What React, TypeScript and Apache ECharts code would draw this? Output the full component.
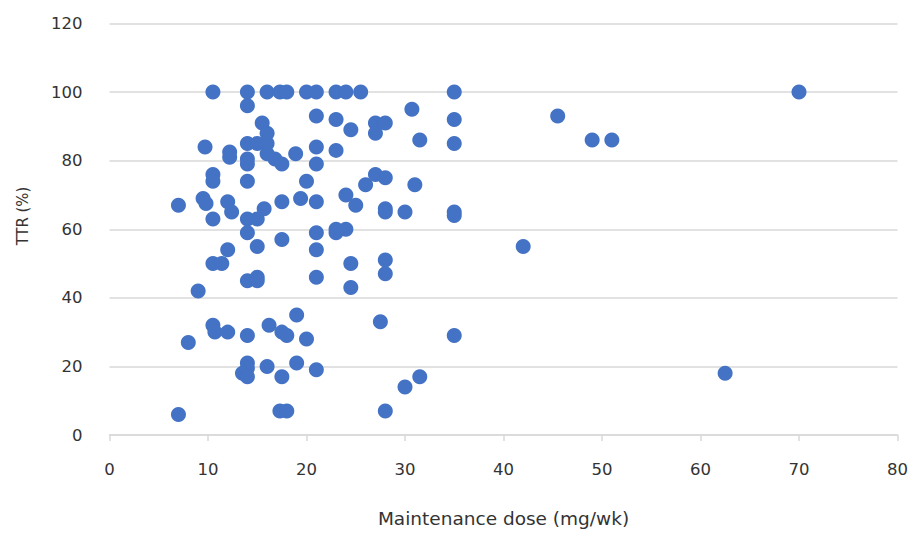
import React, { useEffect, useRef } from "react";
import * as echarts from "echarts";

const doseMgWk: number[] = [
  7, 7, 8, 9, 9.7, 9.5, 9.8, 10.5, 10.5, 10.5, 10.5, 10.5, 10.5, 10.7, 11.4, 12, 12, 12.2, 12.2, 12.4,
  12, 14, 14, 14, 14, 14, 14, 14, 14, 14, 14, 14, 14, 13.5, 14, 15, 15, 15, 15, 15,
  15.5, 15.7, 16, 16, 16, 16, 16, 16.2, 16.8, 17.3, 17.5, 17.5, 17.5, 17.5, 17.5, 17.3, 18, 18, 18, 19,
  19, 18.9, 19.4, 20, 20, 20, 21, 21, 21, 21, 21, 21, 21, 21, 21, 23, 23, 23, 23, 23,
  24, 24, 24, 24.5, 24.5, 24.5, 25, 25.5, 26, 27, 27, 27, 27.5, 28, 28, 28, 28, 28, 28, 28,
  30, 30, 30.7, 31, 31.5, 31.5, 35, 35, 35, 35, 35, 35, 42, 45.5, 49, 51, 62.5, 70,
];

const ttrPct: number[] = [
  67, 6, 27, 42, 84, 69, 67.5, 100, 76, 74, 63, 50, 32, 30, 50, 54, 68, 82.5, 81, 65,
  30, 100, 96, 85, 80.5, 79, 74, 63, 59, 45, 29, 21, 19.5, 18, 17, 63, 55, 46, 45, 85,
  91, 66, 88, 85, 82, 100, 20, 32, 80.5, 100, 79, 68, 57, 30, 17, 7, 29, 100, 7, 35,
  21, 82, 69, 100, 74, 28, 100, 93, 84, 79, 68, 59, 54, 46, 19, 100, 92, 83, 60, 59,
  100, 70, 60, 89, 50, 43, 67, 100, 73, 91, 88, 76, 33, 91, 75, 66, 65, 51, 47, 7,
  65, 14, 95, 73, 86, 17, 100, 92, 85, 65, 64, 29, 55, 93, 86, 86, 18, 100,
];

const xTicks = { min: 0, max: 80, interval: 10 };
const yTicks = { min: 0, max: 120, interval: 20 };

const xTitle = "Maintenance dose (mg/wk)";
const yTitle = "TTR (%)";

export default function App() {
  const ref = useRef<HTMLDivElement>(null);
  useEffect(() => {
    if (!ref.current) return;
    const chart = echarts.init(ref.current, undefined, { renderer: "svg" });
    const data = doseMgWk.map((x, i) => [x, ttrPct[i]]);
    const font = "'DejaVu Sans', sans-serif";
    const narrow = "'Liberation Sans Narrow', 'DejaVu Sans Condensed', sans-serif";
    const fs = 16.5;
    chart.setOption({
      animation: false,
      textStyle: { fontFamily: font },
      grid: { left: 109.5, right: 15.5, top: 23.5, bottom: 97.5, containLabel: false },
      xAxis: {
        type: "value",
        min: xTicks.min,
        max: xTicks.max,
        interval: xTicks.interval,
        name: xTitle,
        nameLocation: "middle",
        nameGap: 74,
        nameTextStyle: { fontSize: 18.5, color: "#333333", fontFamily: font },
        axisLine: { show: true, onZero: false, lineStyle: { color: "#D9D9D9", width: 1.5 } },
        axisTick: { show: true, length: 6, lineStyle: { color: "#D9D9D9", width: 1.5 } },
        axisLabel: { margin: 26, fontSize: fs, color: "#333333", fontFamily: font },
        splitLine: { show: false },
      },
      yAxis: {
        type: "value",
        min: yTicks.min,
        max: yTicks.max,
        interval: yTicks.interval,
        axisLine: { show: false },
        axisTick: { show: false },
        axisLabel: { margin: 27, fontSize: fs, color: "#333333", fontFamily: font },
        splitLine: { show: true, lineStyle: { color: "#D9D9D9", width: 1.5 } },
      },
      graphic: [
        {
          type: "text",
          x: 22,
          y: 216,
          rotation: Math.PI / 2,
          style: {
            text: yTitle,
            fill: "#333333",
            fontSize: 16.5,
            fontFamily: narrow,
            textAlign: "center",
            textVerticalAlign: "middle",
          },
        },
      ],
      series: [
        {
          type: "scatter",
          data,
          symbol: "circle",
          symbolSize: 15,
          itemStyle: { color: "#4472C4", opacity: 1 },
        },
      ],
    });
    return () => chart.dispose();
  }, []);
  return <div ref={ref} style={{ width: 913, height: 533, position: "absolute", left: 0, top: 0 }} />;
}
